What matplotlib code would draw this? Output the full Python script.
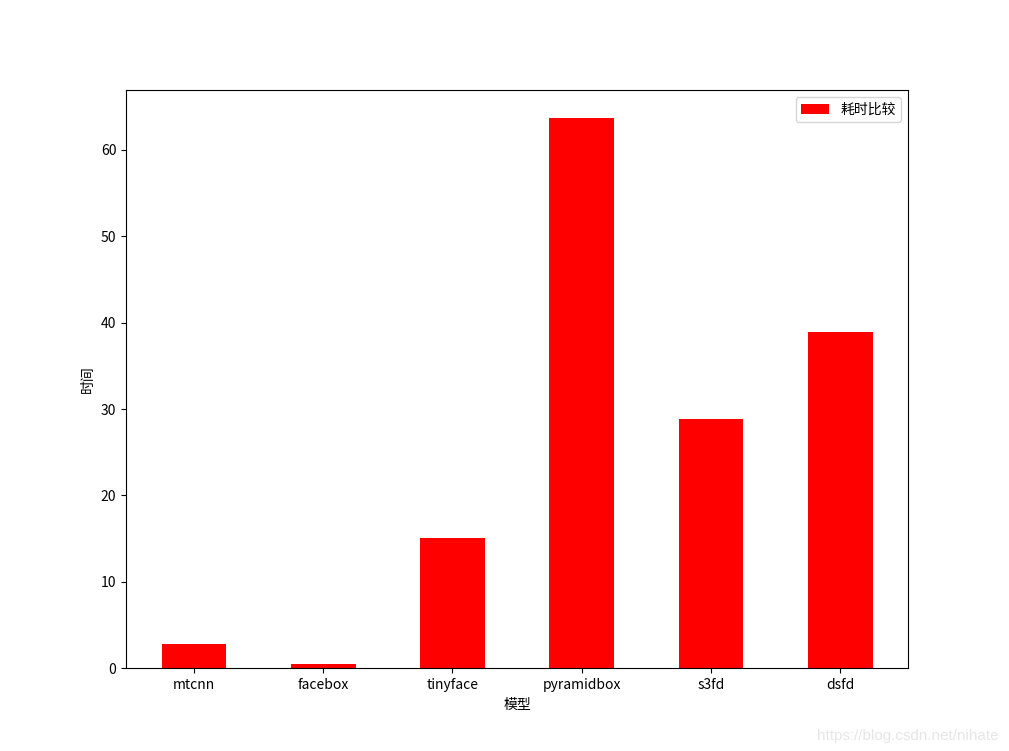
import matplotlib
matplotlib.use('Agg')
import matplotlib.pyplot as plt

plt.rcParams['font.family'] = ['Noto Sans CJK SC', 'DejaVu Sans']
plt.rcParams['axes.unicode_minus'] = False

models = ['mtcnn', 'facebox', 'tinyface', 'pyramidbox', 's3fd', 'dsfd']
times = [2.8, 0.5, 15.1, 63.7, 28.8, 38.9]

fig = plt.figure(figsize=(10.09, 7.51), dpi=100)
ax = fig.add_subplot(111)
ax.bar(models, times, width=0.5, color='red', label='耗时比较')
ax.set_xlabel('模型')
ax.set_ylabel('时间')
ax.legend(loc='upper right')

fig.text(0.99, 0.01, 'https://blog.csdn.net/nihate', ha='right', va='bottom',
         color='#e6e6e6', fontsize=11, family=['Liberation Sans', 'DejaVu Sans'])

plt.savefig('out.png', format='png')
plt.close()
